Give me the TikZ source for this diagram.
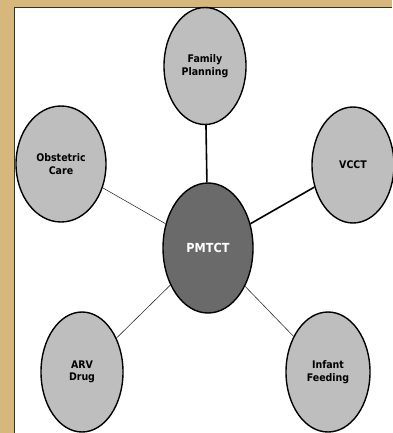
\documentclass[tikz,border=0pt]{standalone}
\usepackage{fontspec}
\setmainfont{DejaVu Sans Condensed}
\usetikzlibrary{shapes.geometric}
\definecolor{wood}{HTML}{D6B77C}
\definecolor{outerfill}{HTML}{BEBEBE}
\definecolor{centerfill}{HTML}{6A6A6A}
\tikzset{
  bubble/.style={ellipse, draw=black, line width=1.4pt, fill=outerfill, inner sep=0pt,
    font=\bfseries\fontsize{10.5}{12.5}\selectfont, align=center, text=black},
  hub/.style={bubble, fill=centerfill, text=white, font=\bfseries\fontsize{12.5}{14}\selectfont},
  thinlink/.style={line width=0.6pt, draw=black!80},
  thicklink/.style={line width=1.6pt, draw=black}
}
\begin{document}
\begin{tikzpicture}[x=1pt,y=-1pt]
\useasboundingbox (0,0) rectangle (392,433);
\fill[wood] (0,0) rectangle (392,433);
\fill[white] (14,7) rectangle (392,433);
\draw[line width=1.8pt, black!80] (14.5,433) -- (14.5,7.5) -- (392,7.5);
\node[bubble, minimum width=82pt, minimum height=117pt] (fp) at (205,66) {Family\\Planning};
\node[bubble, minimum width=90pt, minimum height=116pt] (oc) at (61,164) {Obstetric\\Care};
\node[bubble, minimum width=82pt, minimum height=116pt] (vcct) at (353,165) {VCCT};
\node[hub, minimum width=90pt, minimum height=130pt] (pm) at (208,248) {PMTCT};
\node[bubble, minimum width=82pt, minimum height=120pt] (arv) at (82,372) {ARV\\Drug};
\node[bubble, minimum width=84pt, minimum height=120pt] (inf) at (328,372) {Infant\\Feeding};
\draw[thicklink] (fp) -- (pm);
\draw[thicklink] (vcct) -- (pm);
\draw[thinlink] (oc) -- (pm);
\draw[thinlink] (arv) -- (pm);
\draw[thinlink] (inf) -- (pm);
\end{tikzpicture}
\end{document}
